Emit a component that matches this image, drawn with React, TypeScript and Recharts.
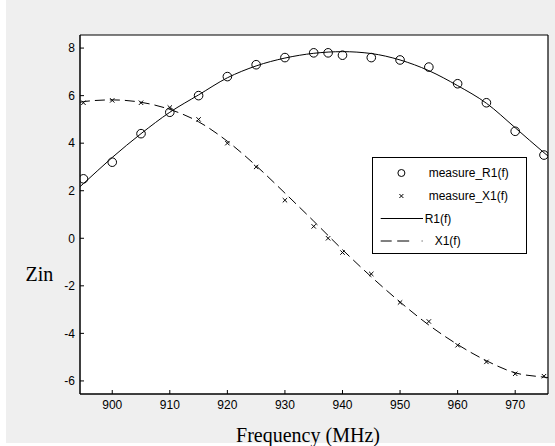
import React from 'react';
import { ComposedChart, XAxis, YAxis, Line, Scatter, Legend, CartesianGrid } from 'recharts';

// measured samples
const measFreq = [895, 900, 905, 910, 915, 920, 925, 930, 935, 937.5, 940, 945, 950, 955, 960, 965, 970, 975];
const measR1 = [2.5, 3.2, 4.4, 5.3, 6.0, 6.8, 7.3, 7.6, 7.8, 7.8, 7.7, 7.6, 7.5, 7.2, 6.5, 5.7, 4.5, 3.5];
const measX1 = [5.7, 5.8, 5.7, 5.5, 5.0, 4.0, 3.0, 1.6, 0.5, 0.0, -0.6, -1.5, -2.7, -3.5, -4.5, -5.2, -5.7, -5.8];

// fitted curves
const fitFreq = [894.4, 895, 900, 905, 910, 915, 920, 925, 930, 935, 940, 945, 950, 955, 960, 965, 970, 975, 975.7];
const fitR1 = [2.17, 2.3, 3.4, 4.4, 5.3, 6.03, 6.75, 7.25, 7.58, 7.78, 7.85, 7.77, 7.5, 7.05, 6.42, 5.68, 4.65, 3.6, 3.46];
const fitX1 = [5.72, 5.75, 5.82, 5.72, 5.42, 4.9, 4.08, 3.05, 1.9, 0.72, -0.48, -1.62, -2.68, -3.65, -4.47, -5.15, -5.66, -5.84, -5.86];

const xTicks = [900, 910, 920, 930, 940, 950, 960, 970];
const yTicks = [-6, -4, -2, 0, 2, 4, 6, 8];
const xDomain = [894.4, 975.7];
const yDomain = [-6.55, 8.55];

const legendOrder = ['measure_R1(f)', 'measure_X1(f)', 'R1(f)', 'X1(f)'];

const measRData = measFreq.map((f, i) => ({ f, v: measR1[i] }));
const measXData = measFreq.map((f, i) => ({ f, v: measX1[i] }));
const fitRData = fitFreq.map((f, i) => ({ f, v: fitR1[i] }));
const fitXData = fitFreq.map((f, i) => ({ f, v: fitX1[i] }));

const SANS = 'Arial, "Liberation Sans", sans-serif';
const SERIF = '"Times New Roman", "Liberation Serif", serif';

const CircleShape = (props: any) => {
  const { cx, cy } = props;
  if (cx == null || cy == null) return null;
  return <circle cx={cx} cy={cy} r={4.3} fill="none" stroke="#000" strokeWidth={1} />;
};

const CrossShape = (props: any) => {
  const { cx, cy } = props;
  if (cx == null || cy == null) return null;
  const d = 2.2;
  return (
    <g stroke="#000" strokeWidth={1}>
      <line x1={cx - d} y1={cy - d} x2={cx + d} y2={cy + d} />
      <line x1={cx - d} y1={cy + d} x2={cx + d} y2={cy - d} />
    </g>
  );
};

const LegendBox = (props: any) => {
  const payload: any[] = props.payload || [];
  const names = legendOrder.filter((n) => payload.some((p) => p.value === n));
  const rowY = [16, 39, 61.5, 84];
  return (
    <svg width={155} height={97} style={{ display: 'block' }}>
      <rect x={0.5} y={0.5} width={154} height={96} fill="#fff" stroke="#000" strokeWidth={1} />
      {names.map((n, i) => {
        const y = rowY[i];
        let marker: any = null;
        let tx = 56.7;
        if (n === 'measure_R1(f)') {
          marker = <circle cx={29.4} cy={y} r={3.5} fill="none" stroke="#000" strokeWidth={1} />;
        } else if (n === 'measure_X1(f)') {
          marker = (
            <g stroke="#000" strokeWidth={1}>
              <line x1={27.4} y1={y - 2} x2={31.4} y2={y + 2} />
              <line x1={27.4} y1={y + 2} x2={31.4} y2={y - 2} />
            </g>
          );
        } else if (n === 'R1(f)') {
          marker = <line x1={8.7} y1={y} x2={51} y2={y} stroke="#000" strokeWidth={1} />;
          tx = 52.7;
        } else {
          marker = <line x1={8.7} y1={y} x2={50.5} y2={y} stroke="#000" strokeWidth={1} strokeDasharray="11 5.5 12 12.5 1.5" />;
          tx = 62.7;
        }
        return (
          <g key={n}>
            {marker}
            <text x={tx} y={y} dy="0.36em" fontSize={12} fontFamily={SANS} fill="#000">
              {n}
            </text>
          </g>
        );
      })}
    </svg>
  );
};

export default function App() {
  const tickStyle = { fill: '#000', fontSize: 12, fontFamily: SANS };
  return (
    <div style={{ position: 'absolute', left: 0, top: 0, width: 555, height: 446, background: '#fff' }}>
      <div style={{ position: 'absolute', left: 6, top: 0, width: 549, height: 443, background: '#efefef' }} />
      <div style={{ position: 'absolute', left: 0, top: 0 }}>
        <ComposedChart width={555} height={446} margin={{ top: 34, right: 6, bottom: 22, left: 40 }}>
          <CartesianGrid horizontal={false} vertical={false} fill="#fff" />
          <XAxis
            xAxisId="b"
            type="number"
            dataKey="f"
            domain={xDomain}
            ticks={xTicks}
            allowDataOverflow
            height={30}
            tickSize={-4}
            tickMargin={10}
            axisLine={{ stroke: '#000', strokeWidth: 1.5 }}
            tickLine={{ stroke: '#000', strokeWidth: 1 }}
            tick={tickStyle}
          />
          <XAxis
            xAxisId="t"
            orientation="top"
            type="number"
            dataKey="f"
            domain={xDomain}
            ticks={xTicks}
            allowDataOverflow
            height={1}
            tickSize={-4}
            tick={false}
            axisLine={{ stroke: '#000', strokeWidth: 1.2 }}
            tickLine={{ stroke: '#000', strokeWidth: 1 }}
          />
          <YAxis
            yAxisId="l"
            type="number"
            domain={yDomain}
            ticks={yTicks}
            allowDataOverflow
            width={40}
            tickSize={-4}
            tickMargin={9}
            axisLine={{ stroke: '#000', strokeWidth: 1.5 }}
            tickLine={{ stroke: '#000', strokeWidth: 1 }}
            tick={tickStyle}
          />
          <YAxis
            yAxisId="r"
            orientation="right"
            type="number"
            domain={yDomain}
            ticks={yTicks}
            allowDataOverflow
            width={1}
            tickSize={-4}
            tick={false}
            axisLine={{ stroke: '#000', strokeWidth: 1.2 }}
            tickLine={{ stroke: '#000', strokeWidth: 1 }}
          />
          <Line
            xAxisId="b"
            yAxisId="l"
            data={fitRData}
            dataKey="v"
            name="R1(f)"
            type="monotone"
            stroke="#000"
            strokeWidth={1}
            dot={false}
            isAnimationActive={false}
          />
          <Line
            xAxisId="b"
            yAxisId="l"
            data={fitXData}
            dataKey="v"
            name="X1(f)"
            type="monotone"
            stroke="#000"
            strokeWidth={1}
            strokeDasharray="10 5"
            dot={false}
            isAnimationActive={false}
          />
          <Scatter
            xAxisId="b"
            yAxisId="l"
            data={measRData}
            dataKey="v"
            name="measure_R1(f)"
            shape={CircleShape}
            isAnimationActive={false}
          />
          <Scatter
            xAxisId="b"
            yAxisId="l"
            data={measXData}
            dataKey="v"
            name="measure_X1(f)"
            shape={CrossShape}
            isAnimationActive={false}
          />
          <Legend
            layout="horizontal"
            verticalAlign="middle"
            align="center"
            content={LegendBox}
            wrapperStyle={{ position: 'absolute', left: 372, top: 157, width: 155, height: 97, margin: 0, padding: 0 }}
          />
        </ComposedChart>
      </div>
      <svg width={555} height={446} style={{ position: 'absolute', left: 0, top: 0, pointerEvents: 'none' }}>
        <text x={25.5} y={281} fontSize={20} fontFamily={SERIF} fill="#000">
          Zin
        </text>
        <text x={308} y={441.5} fontSize={20} fontFamily={SERIF} fill="#000" textAnchor="middle">
          Frequency (MHz)
        </text>
      </svg>
    </div>
  );
}
